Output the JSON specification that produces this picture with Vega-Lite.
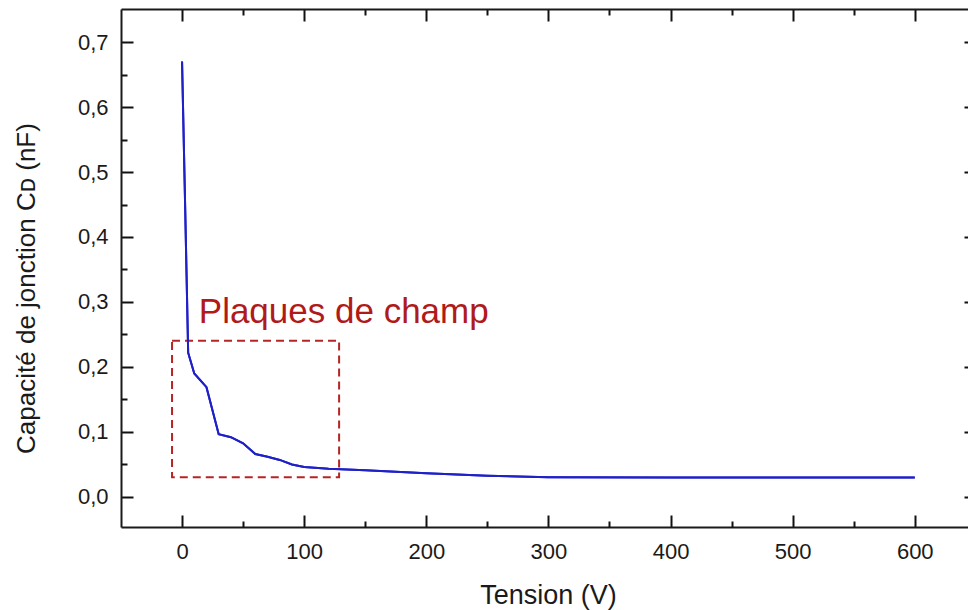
{
  "$schema": "https://vega.github.io/schema/vega-lite/v6.json",
  "width": 847,
  "height": 518,
  "autosize": {"type": "none"},
  "padding": {"left": 121, "top": 9, "right": 0, "bottom": 83},
  "background": "white",
  "config": {
    "view": {"stroke": null},
    "font": "Liberation Sans",
    "axis": {
      "grid": false,
      "domainColor": "#1a1a1a",
      "domainWidth": 2,
      "tickColor": "#1a1a1a",
      "tickWidth": 2,
      "labelColor": "#1a1a1a",
      "titleColor": "#1a1a1a",
      "labelFont": "Liberation Sans",
      "titleFont": "Liberation Sans",
      "labelFontSize": 22,
      "titleFontSize": 26,
      "titleFontWeight": "normal"
    }
  },
  "datasets": {
    "curve": [
      {"V": 0, "C": 0.67},
      {"V": 2.5, "C": 0.45},
      {"V": 5, "C": 0.222},
      {"V": 10, "C": 0.19},
      {"V": 20, "C": 0.169},
      {"V": 30, "C": 0.0965},
      {"V": 40, "C": 0.092},
      {"V": 50, "C": 0.0826},
      {"V": 60, "C": 0.066},
      {"V": 70, "C": 0.062},
      {"V": 80, "C": 0.057},
      {"V": 90, "C": 0.05},
      {"V": 100, "C": 0.046},
      {"V": 120, "C": 0.0435},
      {"V": 150, "C": 0.041},
      {"V": 200, "C": 0.0365},
      {"V": 250, "C": 0.0325},
      {"V": 300, "C": 0.0305},
      {"V": 400, "C": 0.03},
      {"V": 500, "C": 0.03},
      {"V": 600, "C": 0.03}
    ],
    "box": [
      {"V1": -8.2, "V2": 128.6, "C1": 0.2405, "C2": 0.0303}
    ],
    "note": [
      {"V": 13.7, "C": 0.268, "label": "Plaques de champ"}
    ]
  },
  "resolve": {"axis": {"x": "independent", "y": "independent"}},
  "layer": [
    {
      "data": {"name": "curve"},
      "mark": {"type": "line", "color": "#2020c8", "strokeWidth": 2, "clip": true},
      "encoding": {
        "x": {
          "field": "V", "type": "quantitative",
          "scale": {"domain": [-50, 643.6], "nice": false, "zero": false},
          "axis": {
            "orient": "bottom",
            "title": "Tension (V)",
            "titleFontSize": 27,
            "values": [0, 100, 200, 300, 400, 500, 600],
            "tickSize": -12,
            "tickColor": "#111111",
            "tickWidth": 2,
            "labelPadding": 26,
            "titleX": 427,
            "titleY": 76,
            "titleBaseline": "alphabetic",
            "titleAnchor": null,
            "titleAlign": "center"
          }
        },
        "y": {
          "field": "C", "type": "quantitative",
          "scale": {"domain": [-0.0462, 0.7508], "nice": false, "zero": false},
          "axis": {
            "orient": "left",
            "title": "Capacité de jonction Cᴅ (nF)",
            "values": [0, 0.1, 0.2, 0.3, 0.4, 0.5, 0.6, 0.7],
            "tickSize": -12,
            "tickColor": "#111111",
            "tickWidth": 2,
            "labelPadding": 25,
            "labelExpr": "replace(format(datum.value, '.1f'), '.', ',')",
            "titleX": -87,
            "titleY": 279,
            "titleAngle": -90,
            "titleBaseline": "alphabetic",
            "titleAlign": "center",
            "titleAnchor": null
          }
        }
      }
    },
    {
      "data": {"name": "box"},
      "mark": {"type": "rect", "fill": null, "fillOpacity": 0, "stroke": "#b52525", "strokeWidth": 2, "strokeDash": [8, 5]},
      "encoding": {
        "x": {
          "field": "V1", "type": "quantitative",
          "scale": {"domain": [-50, 643.6], "nice": false, "zero": false},
          "axis": {
            "orient": "top",
            "title": null,
            "labels": false,
            "domain": false,
            "values": [0, 100, 200, 300, 400, 500, 600],
            "tickSize": -12,
            "tickColor": "#111111",
            "tickWidth": 2
          }
        },
        "x2": {"field": "V2"},
        "y": {
          "field": "C1", "type": "quantitative",
          "scale": {"domain": [-0.0462, 0.7508], "nice": false, "zero": false},
          "axis": {
            "orient": "right",
            "title": null,
            "labels": false,
            "domain": false,
            "offset": 8,
            "values": [0, 0.1, 0.2, 0.3, 0.4, 0.5, 0.6, 0.7],
            "tickSize": -12,
            "tickColor": "#111111",
            "tickWidth": 2
          }
        },
        "y2": {"field": "C2"}
      }
    },
    {
      "data": {"name": "note"},
      "mark": {"type": "text", "align": "left", "baseline": "alphabetic", "fontSize": 35, "font": "Liberation Sans", "color": "#b01a1a"},
      "encoding": {
        "x": {
          "field": "V", "type": "quantitative",
          "scale": {"domain": [-50, 643.6], "nice": false, "zero": false},
          "axis": {
            "orient": "bottom",
            "title": null,
            "labels": false,
            "domain": false,
            "values": [50, 150, 250, 350, 450, 550],
            "tickSize": -6,
            "tickColor": "#111111",
            "tickWidth": 2
          }
        },
        "y": {
          "field": "C", "type": "quantitative",
          "scale": {"domain": [-0.0462, 0.7508], "nice": false, "zero": false},
          "axis": {
            "orient": "left",
            "title": null,
            "labels": false,
            "domain": false,
            "values": [0.05, 0.15, 0.25, 0.35, 0.45, 0.55, 0.65],
            "tickSize": -6,
            "tickColor": "#111111",
            "tickWidth": 2
          }
        },
        "text": {"field": "label"}
      }
    },
    {
      "data": {"name": "curve"},
      "mark": {"type": "line", "color": "#2020c8", "strokeWidth": 2, "clip": true},
      "encoding": {
        "x": {
          "field": "V", "type": "quantitative",
          "scale": {"domain": [-50, 643.6], "nice": false, "zero": false},
          "axis": {
            "orient": "top",
            "title": null,
            "labels": false,
            "domain": true,
            "values": [50, 150, 250, 350, 450, 550],
            "tickSize": -6,
            "tickColor": "#111111",
            "tickWidth": 2
          }
        },
        "y": {
          "field": "C", "type": "quantitative",
          "scale": {"domain": [-0.0462, 0.7508], "nice": false, "zero": false},
          "axis": {
            "orient": "right",
            "title": null,
            "labels": false,
            "domain": false,
            "offset": 8,
            "values": [0.05, 0.15, 0.25, 0.35, 0.45, 0.55, 0.65],
            "tickSize": -6,
            "tickColor": "#111111",
            "tickWidth": 2
          }
        }
      }
    }
  ]
}
